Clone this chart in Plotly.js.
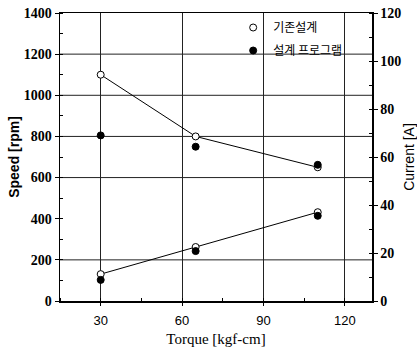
<!DOCTYPE html>
<html>
<head>
<meta charset="utf-8">
<script src="https://cdn.plot.ly/plotly-3.0.1.min.js"></script>
<style>html,body{margin:0;padding:0;background:#fff;}#chart{width:417px;height:355px;}</style>
</head>
<body>
<div id="chart"></div>
<script>
// Data
const torque = [30, 65, 110];
const speedBase = [1100, 800, 650];      // 기존설계 (open)
const speedProg = [805, 750, 662];       // 설계 프로그램 (filled)
const currentBase = [11.2, 22.5, 37];    // 기존설계 (open)
const currentProg = [8.8, 20.8, 35.5];   // 설계 프로그램 (filled)
const seriesNames = ['기존설계', '설계 프로그램'];
const speedGrid = [200, 600, 800, 1000, 1200];

const serif = 'Liberation Serif, Times New Roman, serif';
const sans = 'Liberation Sans, Arial, sans-serif';
const kr = 'Noto Sans CJK KR, sans-serif';

const openMarker = {symbol: 'circle', size: 7, color: '#fff', line: {color: '#000', width: 1}};
const fillMarker = {symbol: 'circle', size: 7, color: '#000', line: {color: '#000', width: 1}};

const traces = [
  {x: torque, y: speedBase, mode: 'lines', line: {color: '#000', width: 1}, showlegend: false, hoverinfo: 'skip'},
  {x: torque, y: currentBase, yaxis: 'y2', mode: 'lines', line: {color: '#000', width: 1}, showlegend: false, hoverinfo: 'skip'},
  {x: torque, y: speedBase, mode: 'markers', marker: openMarker, name: seriesNames[0], legendgroup: 'a'},
  {x: torque, y: currentBase, yaxis: 'y2', mode: 'markers', marker: openMarker, name: seriesNames[0], legendgroup: 'a', showlegend: false},
  {x: torque, y: speedProg, mode: 'markers', marker: fillMarker, name: seriesNames[1], legendgroup: 'b'},
  {x: torque, y: currentProg, yaxis: 'y2', mode: 'markers', marker: fillMarker, name: seriesNames[1], legendgroup: 'b', showlegend: false}
];

const shapes = speedGrid.map(v => ({
  type: 'line', xref: 'paper', x0: 0, x1: 1, yref: 'y', y0: v, y1: v,
  line: {color: '#222', width: 1}, layer: 'below'
}));

const layout = {
  width: 417, height: 355,
  margin: {l: 60, r: 45, t: 13, b: 54},
  paper_bgcolor: '#fff', plot_bgcolor: '#fff',
  showlegend: true,
  legend: {x: 0.555, y: 1.0, xanchor: 'left', yanchor: 'top', bgcolor: 'rgba(0,0,0,0)',
           font: {family: kr, size: 12, color: '#000'}, tracegroupgap: 4, traceorder: 'grouped'},
  xaxis: {
    range: [15, 130], tick0: 30, dtick: 30, showgrid: true, gridcolor: '#222', gridwidth: 1,
    zeroline: false, showline: true, linecolor: '#000', linewidth: 1.5, mirror: true,
    ticks: 'outside', ticklen: 3, tickcolor: '#000', ticklabelstandoff: 4,
    minor: {dtick: 15, ticks: 'inside', ticklen: 3, tickcolor: '#000', showgrid: false},
    tickfont: {family: sans, size: 13, color: '#000'},
    title: {text: 'Torque [kgf-cm]', font: {family: serif, size: 15, color: '#000'}, standoff: 6}
  },
  yaxis: {
    range: [0, 1400], dtick: 200, showgrid: false, zeroline: false,
    showline: true, linecolor: '#000', linewidth: 1.5,
    ticks: 'outside', ticklen: 4, tickcolor: '#000',
    minor: {dtick: 100, ticks: 'inside', ticklen: 3, tickcolor: '#000'},
    tickfont: {family: serif, size: 14, color: '#000', weight: 'bold'},
    title: {text: 'Speed [rpm]', font: {family: sans, size: 14, color: '#000', weight: 'bold'}, standoff: 1}
  },
  yaxis2: {
    range: [0, 120], dtick: 20, overlaying: 'y', side: 'right', showgrid: false, zeroline: false,
    showline: true, linecolor: '#000', linewidth: 1.5,
    ticks: 'outside', ticklen: 4, tickcolor: '#000',
    minor: {dtick: 10, ticks: 'inside', ticklen: 3, tickcolor: '#000'},
    tickfont: {family: serif, size: 14, color: '#000', weight: 'bold'},
    title: {text: 'Current [A]', font: {family: sans, size: 14, color: '#000'}, standoff: 4}
  },
  shapes: shapes
};

Plotly.newPlot('chart', traces, layout, {staticPlot: true, displayModeBar: false});
</script>
</body>
</html>
